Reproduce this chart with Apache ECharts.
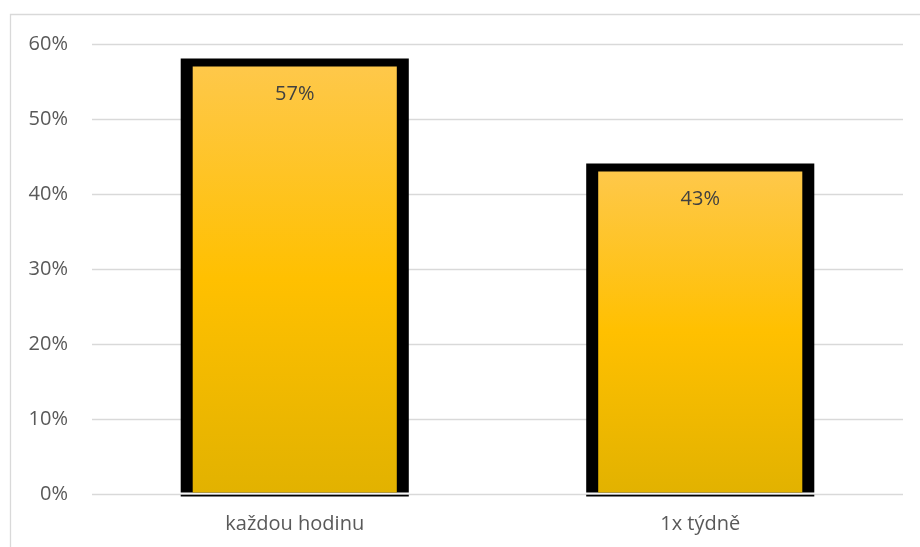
<!DOCTYPE html>
<html>
<head>
<meta charset="utf-8">
<script src="https://cdn.jsdelivr.net/npm/echarts@6/dist/echarts.min.js"></script>
<style>html,body{margin:0;padding:0;background:#fff}#c{width:920px;height:547px}</style>
</head>
<body>
<div id="c"></div>
<script>
const categories = ['každou hodinu', '1x týdně'];
const values = [57, 43];
const yTicks = [0, 10, 20, 30, 40, 50, 60];

const chart = echarts.init(document.getElementById('c'), null, {renderer: 'canvas'});
const FONT = '"Open Sans", "Noto Sans", sans-serif';

function renderItem(params, api) {
  const xi = api.value(0), v = api.value(1);
  const top = api.coord([xi, v]);
  const base = api.coord([xi, 0]);
  const band = api.size([1, 0])[0];
  const cx = top[0];
  const outer = band * 0.5625;
  const border = 12;
  const inner = outer - 2 * border;
  const grad = new echarts.graphic.LinearGradient(0, 0, 0, 1, [
    {offset: 0, color: '#FEC84A'},
    {offset: 0.5, color: '#FFC000'},
    {offset: 1, color: '#E2B200'}
  ]);
  return {
    type: 'group',
    children: [
      {type: 'rect', shape: {x: cx - outer / 2, y: top[1] - 8, width: outer, height: base[1] - top[1] + 8 - 1.5}, style: {fill: '#000'}},
      {type: 'rect', shape: {x: cx - inner / 2, y: top[1], width: inner, height: base[1] - top[1] - 1.5}, style: {fill: grad}},
      {type: 'rect', shape: {x: cx - outer / 2, y: base[1] + 0.8, width: outer, height: 1.6}, style: {fill: '#000'}},
      {type: 'text', x: cx, y: top[1] + 28, style: {text: v + '%', fill: '#404040', font: '20px ' + FONT, align: 'center', verticalAlign: 'middle'}}
    ]
  };
}

chart.setOption({
  animation: false,
  backgroundColor: '#fff',
  graphic: [{
    type: 'rect', shape: {x: 10.5, y: 14.5, width: 1200, height: 1200},
    style: {fill: 'none', stroke: '#d9d9d9', lineWidth: 1.3}, silent: true, z: -1
  }],
  grid: {left: 92, right: 17, top: 44, bottom: 53},
  xAxis: {
    type: 'category',
    data: categories,
    axisLine: {show: false},
    axisTick: {show: false},
    axisLabel: {color: '#595959', fontSize: 20, fontFamily: FONT, margin: 20}
  },
  yAxis: {
    type: 'value',
    min: yTicks[0],
    max: yTicks[yTicks.length - 1],
    interval: 10,
    axisLine: {show: false},
    axisTick: {show: false},
    axisLabel: {color: '#595959', fontSize: 20, fontFamily: FONT, margin: 24, formatter: '{value}%'},
    splitLine: {lineStyle: {color: '#d9d9d9', width: 1.3}}
  },
  series: [{
    type: 'custom',
    renderItem: renderItem,
    encode: {x: 0, y: 1},
    data: values.map((v, i) => [i, v])
  }]
});
</script>
</body>
</html>
